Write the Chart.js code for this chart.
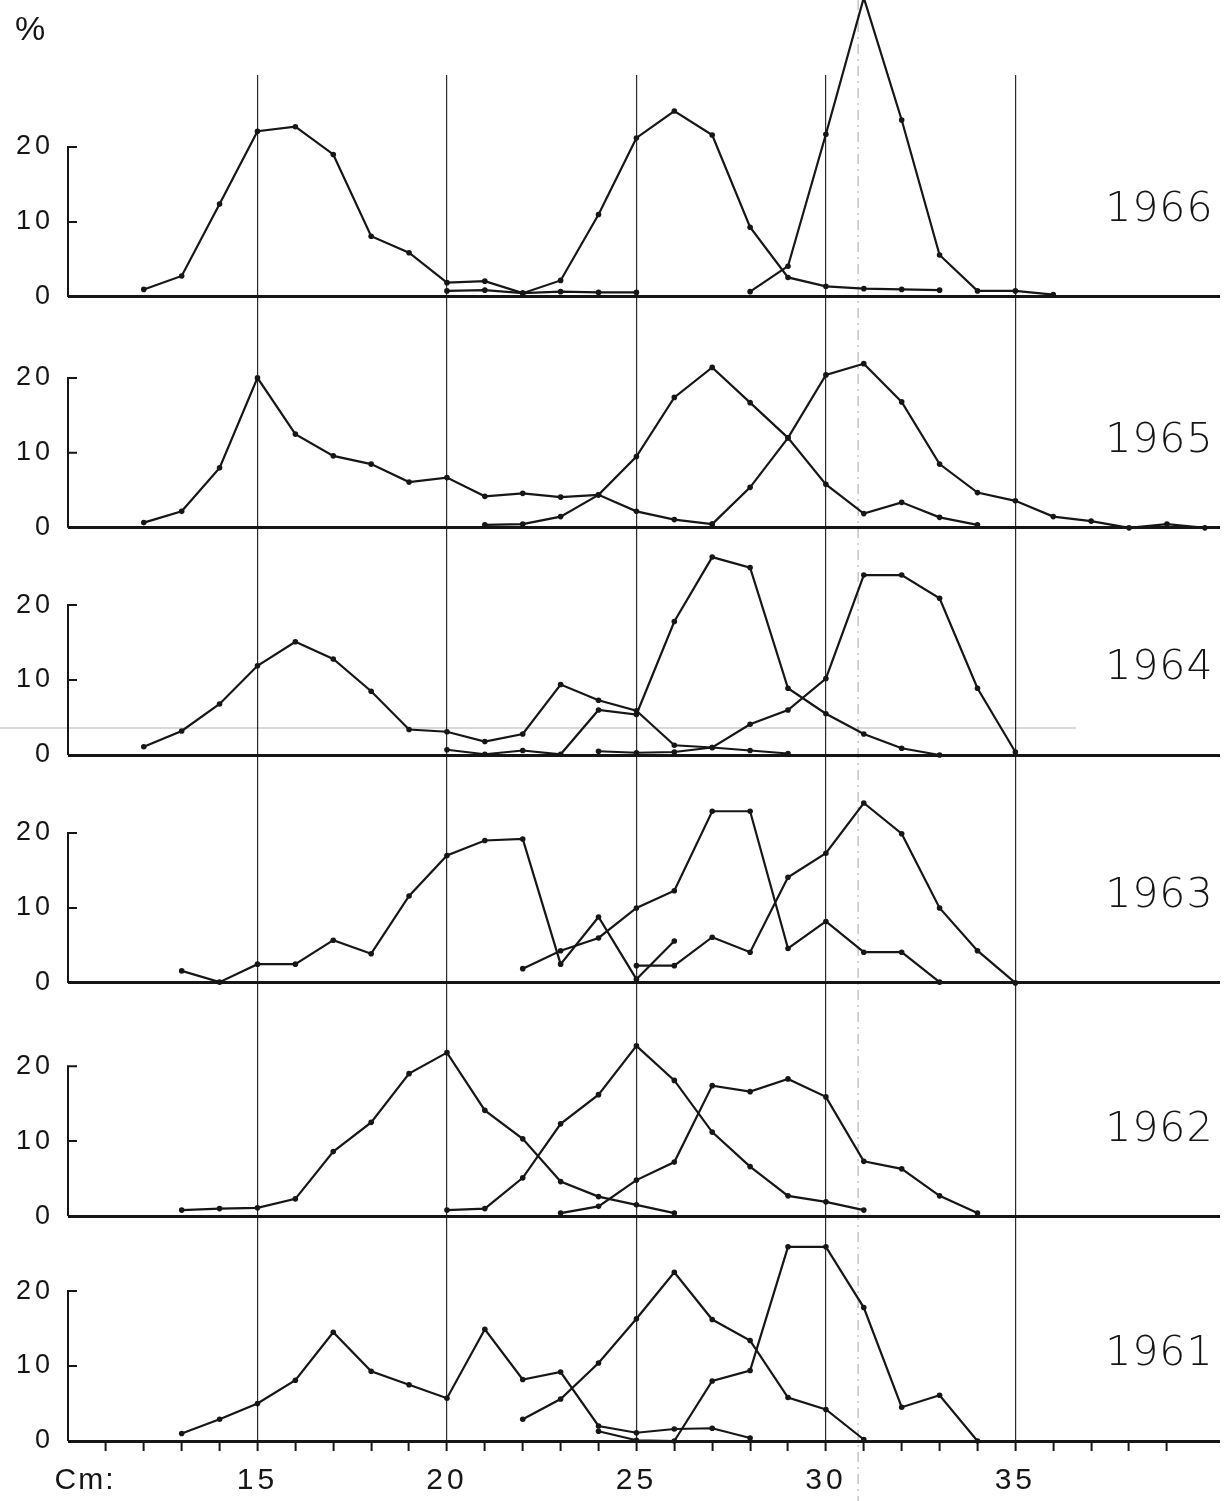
<!DOCTYPE html>
<html>
<head>
<meta charset="utf-8">
<script src="https://cdn.jsdelivr.net/npm/chart.js@4.4.1/dist/chart.umd.min.js"></script>
<style>
html,body{margin:0;padding:0;background:#fff;}
canvas{display:block;}
</style>
</head>
<body>
<canvas id="grafLong" width="1227" height="1501"></canvas>
<script>
// length classes (cm) and percentages, three size groups per year
const years = ["1966","1965","1964","1963","1962","1961"];
const yIds = ["y66","y65","y64","y63","y62","y61"];

const len66a = [12,13,14,15,16,17,18,19,20,21,22,23,24,25];
const pct66a = [1.0,2.8,12.4,22.1,22.7,19.0,8.1,5.9,1.9,2.1,0.5,0.7,0.6,0.6];
const len66b = [20,21,22,23,24,25,26,27,28,29,30,31,32,33];
const pct66b = [0.8,0.9,0.5,2.2,11.0,21.2,24.8,21.6,9.3,2.6,1.4,1.1,1.0,0.9];
const len66c = [28,29,30,31,32,33,34,35,36];
const pct66c = [0.7,4.1,21.7,39.9,23.6,5.6,0.8,0.8,0.3];

const len65a = [12,13,14,15,16,17,18,19,20,21,22,23,24,25,26,27];
const pct65a = [0.7,2.2,8.0,20.0,12.5,9.6,8.5,6.1,6.7,4.2,4.6,4.1,4.4,2.2,1.1,0.5];
const len65b = [21,22,23,24,25,26,27,28,29,30,31,32,33,34];
const pct65b = [0.4,0.5,1.5,4.4,9.5,17.4,21.4,16.7,12.0,5.8,1.9,3.4,1.4,0.4];
const len65c = [27,28,29,30,31,32,33,34,35,36,37,38,39,40];
const pct65c = [0.5,5.4,12.0,20.4,21.9,16.8,8.5,4.7,3.6,1.5,0.9,0,0.5,0];

const len64a = [12,13,14,15,16,17,18,19,20,21,22,23,24,25,26,27,28,29];
const pct64a = [1.1,3.2,6.8,11.9,15.1,12.8,8.5,3.4,3.1,1.8,2.8,9.4,7.3,5.9,1.3,1.0,0.6,0.2];
const len64b = [20,21,22,23,24,25,26,27,28,29,30,31,32,33];
const pct64b = [0.7,0.1,0.6,0.1,6.0,5.4,17.8,26.4,25.0,8.9,5.5,2.8,0.9,0];
const len64c = [24,25,26,27,28,29,30,31,32,33,34,35];
const pct64c = [0.5,0.3,0.4,1.0,4.1,6.0,10.2,24.0,24.0,20.9,8.9,0.4];

const len63a = [13,14,15,16,17,18,19,20,21,22,23,24,25,26];
const pct63a = [1.6,0.1,2.5,2.5,5.7,3.9,11.6,17.0,19.0,19.2,2.5,8.8,0.5,5.6];
const len63b = [22,23,24,25,26,27,28,29,30,31,32,33];
const pct63b = [1.9,4.3,6.0,10.0,12.3,22.9,22.9,4.6,8.2,4.1,4.1,0.1];
const len63c = [25,26,27,28,29,30,31,32,33,34,35];
const pct63c = [2.3,2.3,6.1,4.1,14.1,17.3,24.0,19.9,10.0,4.3,0];

const len62a = [13,14,15,16,17,18,19,20,21,22,23,24,25,26];
const pct62a = [0.8,1.0,1.1,2.3,8.6,12.5,19.0,21.8,14.1,10.3,4.6,2.6,1.5,0.4];
const len62b = [20,21,22,23,24,25,26,27,28,29,30,31];
const pct62b = [0.8,1.0,5.1,12.3,16.2,22.7,18.1,11.2,6.6,2.7,1.9,0.8];
const len62c = [23,24,25,26,27,28,29,30,31,32,33,34];
const pct62c = [0.4,1.3,4.8,7.2,17.4,16.6,18.3,15.9,7.3,6.3,2.7,0.4];

const len61a = [13,14,15,16,17,18,19,20,21,22,23,24,25,26,27,28];
const pct61a = [1.0,2.9,5.0,8.1,14.5,9.3,7.5,5.7,14.9,8.2,9.2,2.0,1.1,1.6,1.7,0.4];
const len61b = [22,23,24,25,26,27,28,29,30,31];
const pct61b = [2.9,5.6,10.4,16.3,22.5,16.2,13.4,5.8,4.2,0.2];
const len61c = [24,25,26,27,28,29,30,31,32,33,34];
const pct61c = [1.3,0.1,0,8.0,9.4,25.9,25.9,17.8,4.5,6.1,0];

// axes
const cmTicks = [11,12,13,14,15,16,17,18,19,20,21,22,23,24,25,26,27,28,29,30,31,32,33,34,35,36,37,38,39];
const cmLabels = [15,20,25,30,35];
const yTicks = [0,10,20];
const panelMax = [29.6,30.8,30.3,30.4,31.1,30.0];

const ink = "#161616";
const fam = '"Liberation Sans", Arial, sans-serif';

function serie(len,pct,axis){
return {
data: len.map((c,i)=>({x:c,y:pct[i]})),
yAxisID: axis,
borderColor: ink,
backgroundColor: ink,
borderWidth: 2.2,
pointRadius: 2.8,
pointBorderWidth: 0,
tension: 0,
clip: false
};
}

const datasets = [
serie(len66a,pct66a,"y66"),serie(len66b,pct66b,"y66"),serie(len66c,pct66c,"y66"),
serie(len65a,pct65a,"y65"),serie(len65b,pct65b,"y65"),serie(len65c,pct65c,"y65"),
serie(len64a,pct64a,"y64"),serie(len64b,pct64b,"y64"),serie(len64c,pct64c,"y64"),
serie(len63a,pct63a,"y63"),serie(len63b,pct63b,"y63"),serie(len63c,pct63c,"y63"),
serie(len62a,pct62a,"y62"),serie(len62b,pct62b,"y62"),serie(len62c,pct62c,"y62"),
serie(len61a,pct61a,"y61"),serie(len61b,pct61b,"y61"),serie(len61c,pct61c,"y61")
];

function yScale(i){
return {
type:"linear",
position:"left",
stack:"years",
stackWeight: panelMax[i],
weight: years.length-i,
min:0,
max:panelMax[i],
afterFit: s=>{ s.width=68; },
afterBuildTicks: s=>{ s.ticks=yTicks.map(v=>({value:v})); },
ticks:{ padding:14, color:ink, font:{family:fam,size:27} },
grid:{
drawTicks:false,
color: c=> (c.tick && c.tick.value===0) ? ink : "rgba(0,0,0,0)",
lineWidth: c=> (c.tick && c.tick.value===0) ? 3 : 0
},
border:{display:false}
};
}

const scales = {
x:{
type:"linear",
position:"bottom",
min:10,
max:40.4,
afterFit: s=>{ s.height=60; },
afterBuildTicks: s=>{ s.ticks=cmTicks.map(v=>({value:v})); },
ticks:{
autoSkip:false,
maxRotation:0,
padding:12,
color:ink,
font:{family:fam,size:30},
callback: v=> cmLabels.includes(v) ? String(v) : ""
},
grid:{
tickLength:10,
tickWidth:2,
tickColor: ink,
color: c=> (c.tick && cmLabels.includes(c.tick.value)) ? "#2a2a2a" : "rgba(0,0,0,0)",
lineWidth:1.2
},
border:{display:false}
}
};
yIds.forEach((id,i)=>{ scales[id]=yScale(i); });

// axis stubs, year names and the scan marks
const decor = {
id:"decor",
beforeDraw(chart){
chart.ctx.letterSpacing="4px";
},
beforeDatasetsDraw(chart){
const c=chart.ctx, x=chart.scales.x, y64=chart.scales.y64;
c.save();
c.strokeStyle="rgba(0,0,0,0.35)";
c.lineWidth=1;
c.setLineDash([10,5,2,5]);
c.beginPath();
c.moveTo(x.getPixelForValue(30.85),0);
c.lineTo(x.getPixelForValue(30.85),chart.height);
c.stroke();
c.setLineDash([]);
c.strokeStyle="rgba(0,0,0,0.3)";
c.beginPath();
c.moveTo(0,y64.getPixelForValue(3.6));
c.lineTo(x.getPixelForValue(36.6),y64.getPixelForValue(3.6));
c.stroke();
c.restore();
},
afterDraw(chart){
const c=chart.ctx, x=chart.scales.x, left=chart.chartArea.left;
c.save();
c.strokeStyle=ink;
c.fillStyle=ink;
c.lineWidth=2;
c.letterSpacing="1px";
yIds.forEach((id,i)=>{
const s=chart.scales[id];
c.beginPath();
c.moveTo(left,s.getPixelForValue(0));
c.lineTo(left,s.getPixelForValue(20));
c.lineTo(left+9,s.getPixelForValue(20));
c.moveTo(left,s.getPixelForValue(10));
c.lineTo(left+9,s.getPixelForValue(10));
c.stroke();
c.font='200 41px "DejaVu Sans", '+fam;
c.textAlign="center";
c.textBaseline="middle";
c.fillText(years[i],x.getPixelForValue(38.8),s.getPixelForValue(11.5));
});
c.letterSpacing="0px";
c.font="34px "+fam;
c.textAlign="center";
c.textBaseline="middle";
c.fillText("%",left-38,chart.scales.y66.getPixelForValue(35.5));
c.font="30px "+fam;
c.letterSpacing="2px";
c.fillText("Cm:",x.getPixelForValue(10.45),x.top+40);
c.restore();
}
};

new Chart(document.getElementById("grafLong"),{
type:"line",
data:{datasets},
options:{
responsive:false,
animation:false,
layout:{padding:{top:75,right:7,left:0,bottom:0}},
plugins:{legend:{display:false},tooltip:{enabled:false}},
scales
},
plugins:[decor]
});
</script>
</body>
</html>
